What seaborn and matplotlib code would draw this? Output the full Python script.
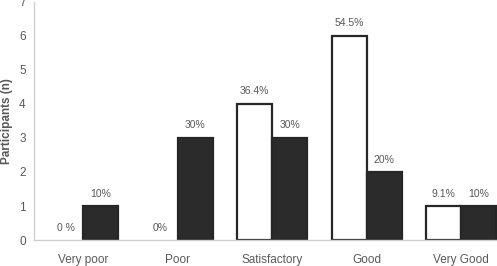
import numpy as np
import pandas as pd
import seaborn as sns
from matplotlib import pyplot as plt

categories = ["Very poor", "Poor", "Satisfactory", "Good", "Very Good"]
group_a_n = [0, 0, 4, 6, 1]
group_b_n = [1, 3, 3, 2, 1]
group_a_pct = ["0 %", "0%", "36.4%", "54.5%", "9.1%"]
group_b_pct = ["10%", "30%", "30%", "20%", "10%"]

df = pd.DataFrame({
    "category": categories * 2,
    "n": group_a_n + group_b_n,
    "group": ["A"] * len(categories) + ["B"] * len(categories),
})

sns.set_style("white")
plt.rcParams["font.family"] = ["Liberation Sans", "DejaVu Sans"]
grey = "#595959"

fig = plt.figure(figsize=(4.97, 2.66), dpi=100)
ax = fig.add_axes([0.0684, 0.0977, 0.9316, 0.895])

sns.barplot(
    data=df, x="category", y="n", hue="group", order=categories,
    palette={"A": "white", "B": "#2b2b2b"}, width=0.74, gap=0,
    edgecolor="#262626", linewidth=1.6, legend=False, ax=ax,
)

# percentage labels
for cont, labels in zip(ax.containers, [group_a_pct, group_b_pct]):
    for bar, lab in zip(cont, labels):
        x = bar.get_x() + bar.get_width() / 2
        h = bar.get_height()
        if h == 0:
            bar.set_visible(False)
        ax.text(x, h + 0.22, lab, ha="center", va="bottom",
                fontsize=7.5, color=grey)

ax.set_xlim(-0.52, 4.38)
ax.set_ylim(0, 7)
ax.set_yticks(range(0, 8))
ax.set_xlabel("")
ax.set_ylabel("Participants (n)", fontsize=8.5, fontweight="bold", color=grey, labelpad=4)
ax.tick_params(axis="both", length=0, labelsize=8.5, colors=grey, pad=6)
ax.tick_params(axis="x", pad=10)
for side in ["top", "right"]:
    ax.spines[side].set_visible(False)
for side in ["left", "bottom"]:
    ax.spines[side].set_color("#d0d0d0")
    ax.spines[side].set_linewidth(1)

fig.savefig("out.png", dpi=100)
